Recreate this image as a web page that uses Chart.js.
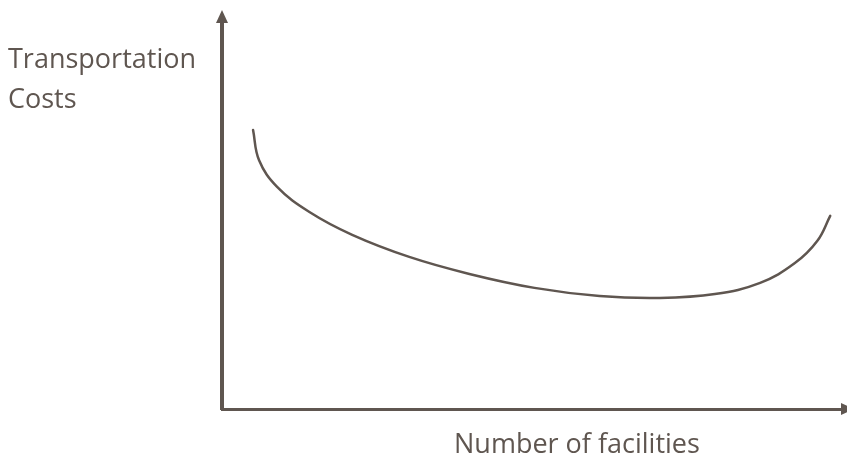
<!DOCTYPE html>
<html>
<head>
<meta charset="utf-8">
<script src="https://cdn.jsdelivr.net/npm/chart.js@4.4.1/dist/chart.umd.min.js"></script>
<style>
  html, body { margin: 0; padding: 0; background: #fff; }
  #wrap { width: 847px; height: 456px; position: relative; }
</style>
</head>
<body>
<div id="wrap"><canvas id="chart"></canvas></div>
<script>
// curve, axis units 0..100
const costX = [5.01, 5.98, 8.89, 14.1, 21.0, 30.2, 39.9, 50.4, 60.9, 70.6, 79.5, 86.8, 92.4, 96.0, 98.1];
const costY = [72.1, 64.3, 57.4, 50.9, 45.0, 39.3, 34.9, 31.3, 29.2, 28.7, 29.7, 32.6, 37.7, 43.4, 49.9];
const yLabelLines = ['Transportation', 'Costs'];
const xLabel = 'Number of facilities';

const ink = '#5f5650';

const points = costX.map((x, i) => ({ x: x, y: costY[i] }));

// arrows on the axes + the two captions
const sketchAxes = {
  id: 'sketchAxes',
  afterDraw(chart) {
    const c = chart.ctx, a = chart.chartArea;
    c.save();
    c.fillStyle = ink;
    // up arrow
    c.beginPath();
    c.moveTo(a.left, a.top - 12);
    c.lineTo(a.left - 6, a.top + 1);
    c.lineTo(a.left + 6, a.top + 1);
    c.closePath();
    c.fill();
    // right arrow
    c.beginPath();
    c.moveTo(a.right + 12, a.bottom);
    c.lineTo(a.right - 1, a.bottom - 6);
    c.lineTo(a.right - 1, a.bottom + 6);
    c.closePath();
    c.fill();

    c.font = '27px "Open Sans"';
    c.textBaseline = 'alphabetic';
    c.textAlign = 'left';
    c.fillText(yLabelLines[0], 8, 68);
    c.fillText(yLabelLines[1], 8, 108);
    c.fillText(xLabel, 454, 453);
    c.restore();
  }
};

new Chart(document.getElementById('chart'), {
  type: 'line',
  data: {
    datasets: [{
      data: points,
      borderColor: ink,
      borderWidth: 2.5,
      borderCapStyle: 'round',
      pointRadius: 0,
      tension: 0.4,
      fill: false
    }]
  },
  options: {
    responsive: true,
    maintainAspectRatio: false,
    animation: false,
    layout: { padding: { left: 222, top: 22, right: 5, bottom: 47 } },
    plugins: { legend: { display: false }, tooltip: { enabled: false } },
    scales: {
      x: {
        type: 'linear', min: 0, max: 100,
        ticks: { display: false },
        grid: { display: false, drawTicks: false },
        border: { display: true, color: ink, width: 3 }
      },
      y: {
        min: 0, max: 100,
        ticks: { display: false },
        grid: { display: false, drawTicks: false },
        border: { display: true, color: ink, width: 4 }
      }
    }
  },
  plugins: [sketchAxes]
});
</script>
</body>
</html>
